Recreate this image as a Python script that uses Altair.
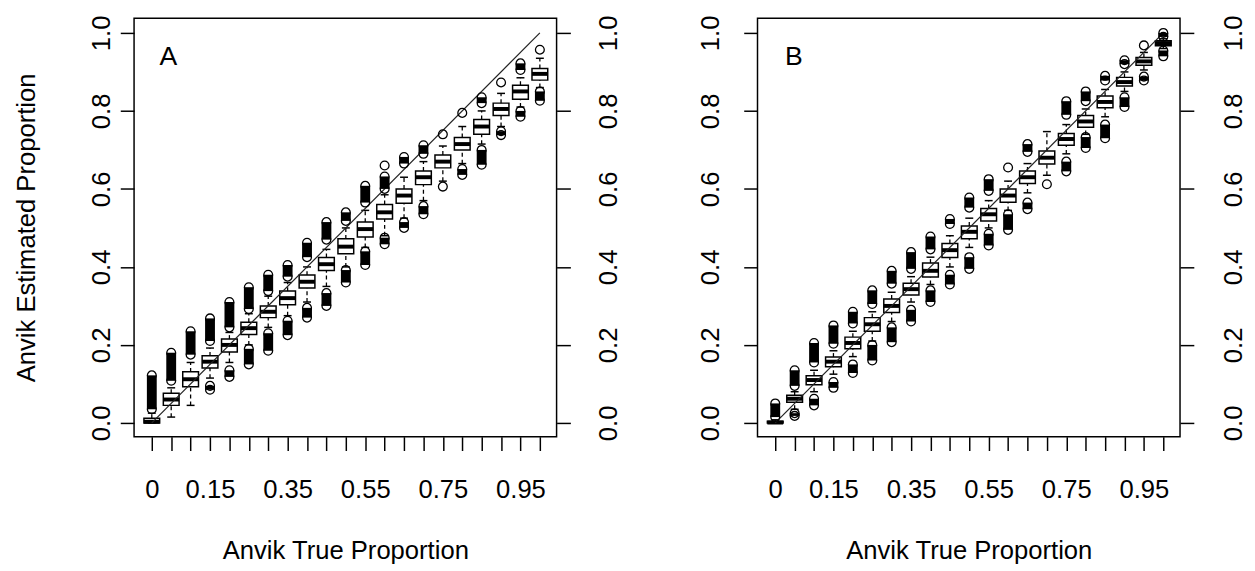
import altair as alt
import pandas as pd

# ---------------- data ----------------
x_vals = [0.00, 0.05, 0.10, 0.15, 0.20, 0.25, 0.30, 0.35, 0.40, 0.45, 0.50,
          0.55, 0.60, 0.65, 0.70, 0.75, 0.80, 0.85, 0.90, 0.95, 1.00]
x_label_vals = [0.00, 0.15, 0.35, 0.55, 0.75, 0.95]
x_label_text = ["0", "0.15", "0.35", "0.55", "0.75", "0.95"]
y_tick_vals = [0.0, 0.2, 0.4, 0.6, 0.8, 1.0]

# Panel A
A_q1 = [0.000, 0.045, 0.093, 0.141, 0.182, 0.227, 0.270, 0.303, 0.346, 0.391, 0.434,
        0.477, 0.523, 0.563, 0.611, 0.654, 0.700, 0.740, 0.788, 0.830, 0.879]
A_med = [0.003, 0.060, 0.112, 0.157, 0.200, 0.243, 0.285, 0.320, 0.362, 0.407, 0.452,
         0.497, 0.540, 0.583, 0.630, 0.670, 0.715, 0.760, 0.805, 0.850, 0.895]
A_q3 = [0.012, 0.076, 0.131, 0.172, 0.215, 0.258, 0.300, 0.338, 0.379, 0.424, 0.472,
        0.515, 0.560, 0.600, 0.646, 0.687, 0.732, 0.778, 0.820, 0.866, 0.909]
A_wlo = [0.000, 0.015, 0.045, 0.115, 0.155, 0.200, 0.245, 0.275, 0.310, 0.350, 0.400,
         0.450, 0.480, 0.525, 0.570, 0.620, 0.665, 0.715, 0.760, 0.810, 0.860]
A_whi = [0.025, 0.090, 0.155, 0.192, 0.232, 0.280, 0.325, 0.360, 0.400, 0.445, 0.500,
         0.545, 0.585, 0.630, 0.670, 0.710, 0.760, 0.800, 0.845, 0.885, 0.935]
A_up_a = [0.035, 0.108, 0.175, 0.210, 0.245, 0.292, 0.338, 0.375, 0.425, 0.470, 0.518,
          0.565, 0.600, 0.665, 0.690, 0.740, 0.795, 0.820, 0.873, 0.905, 0.957]
A_up_b = [0.122, 0.180, 0.235, 0.268, 0.310, 0.348, 0.380, 0.405, 0.462, 0.515, 0.540,
          0.608, 0.632, 0.682, 0.712, 0.740, 0.795, 0.835, 0.873, 0.922, 0.957]
A_dn_a = [None, None, None, 0.085, 0.118, 0.150, 0.185, 0.225, 0.270, 0.300, 0.360,
          0.405, 0.458, 0.500, 0.535, 0.606, 0.636, 0.662, 0.738, 0.785, 0.826]
A_dn_b = [None, None, None, 0.095, 0.135, 0.190, 0.230, 0.262, 0.295, 0.333, 0.392,
          0.440, 0.475, 0.515, 0.556, 0.606, 0.651, 0.700, 0.748, 0.800, 0.850]
A_extra = [(0.60, 0.660)]

# Panel B
B_q1 = [0.000, 0.053, 0.098, 0.144, 0.190, 0.235, 0.283, 0.328, 0.374, 0.424, 0.472,
        0.518, 0.566, 0.614, 0.664, 0.712, 0.758, 0.808, 0.864, 0.917, 0.967]
B_med = [0.001, 0.062, 0.110, 0.157, 0.205, 0.253, 0.300, 0.343, 0.390, 0.443, 0.490,
         0.535, 0.583, 0.630, 0.680, 0.728, 0.773, 0.823, 0.874, 0.927, 0.974]
B_q3 = [0.004, 0.071, 0.121, 0.169, 0.220, 0.270, 0.318, 0.358, 0.410, 0.460, 0.505,
        0.550, 0.600, 0.646, 0.697, 0.742, 0.788, 0.838, 0.886, 0.937, 0.980]
B_wlo = [0.000, 0.035, 0.080, 0.125, 0.170, 0.210, 0.260, 0.310, 0.355, 0.400, 0.450,
         0.500, 0.545, 0.590, 0.635, 0.690, 0.740, 0.785, 0.850, 0.905, 0.960]
B_whi = [0.008, 0.080, 0.135, 0.185, 0.235, 0.285, 0.335, 0.375, 0.425, 0.480, 0.525,
         0.570, 0.620, 0.665, 0.747, 0.765, 0.805, 0.855, 0.900, 0.950, 0.985]
B_up_a = [0.015, 0.095, 0.155, 0.203, 0.255, 0.305, 0.357, 0.395, 0.445, 0.510, 0.552,
          0.595, 0.655, 0.695, None, 0.790, 0.825, 0.878, 0.920, 0.968, 0.990]
B_up_b = [0.050, 0.135, 0.205, 0.250, 0.285, 0.340, 0.390, 0.438, 0.478, 0.523, 0.578,
          0.625, 0.655, 0.715, None, 0.825, 0.850, 0.890, 0.930, 0.968, 1.000]
B_dn_a = [None, 0.018, 0.045, 0.090, 0.128, 0.160, 0.207, 0.260, 0.310, 0.355, 0.395,
          0.455, 0.495, 0.548, 0.612, 0.645, 0.705, 0.730, 0.810, 0.878, 0.940]
B_dn_b = [None, 0.025, 0.062, 0.105, 0.150, 0.200, 0.245, 0.290, 0.340, 0.380, 0.425,
          0.485, 0.535, 0.565, 0.612, 0.670, 0.733, 0.765, 0.835, 0.888, 0.955]
B_extra = []

panel_letters = ["A", "B"]
letter_x = [0.020, 0.025]
letter_y = [0.917, 0.917]

# ---------------- styling ----------------
FONT = "Liberation Sans"
X_DOMAIN = [-0.0457, 1.0431]
Y_DOMAIN = [-0.0354, 1.0379]
W, H = 429, 425
HALF_BOX = 0.0203
HALF_STAPLE = 0.0102

label_expr = ""
for v, t in zip(x_label_vals, x_label_text):
    label_expr += f"abs(datum.value - {v}) < 0.001 ? '{t}' : "
label_expr += "''"


def panel(idx, q1, med, q3, wlo, whi, up_a, up_b, dn_a, dn_b, extra, left_title,
          left_pad, right_pad):
    box = pd.DataFrame(dict(x=x_vals, q1=q1, med=med, q3=q3, wlo=wlo, whi=whi))
    box["x0"] = box["x"] - HALF_BOX
    box["x1"] = box["x"] + HALF_BOX
    box["s0"] = box["x"] - HALF_STAPLE
    box["s1"] = box["x"] + HALF_STAPLE

    spans, pts = [], []
    for x, a, b in list(zip(x_vals, up_a, up_b)) + list(zip(x_vals, dn_a, dn_b)):
        if a is None:
            continue
        pts.append({"x": x, "y": a})
        if b > a:
            pts.append({"x": x, "y": b})
            spans.append({"x": x, "a": a, "b": b})
    for x, y in extra:
        pts.append({"x": x, "y": y})
    spans_df = pd.DataFrame(spans, columns=["x", "a", "b"])
    pts_df = pd.DataFrame(pts, columns=["x", "y"])

    xs = alt.Scale(domain=X_DOMAIN, nice=False, zero=False)
    ys = alt.Scale(domain=Y_DOMAIN, nice=False, zero=False)

    x_axis = alt.Axis(values=x_vals, labelExpr=label_expr, title="Anvik True Proportion",
                      tickSize=14, labelPadding=27, labelOverlap=False, labelFlush=False,
                      titleY=124, titleBaseline="alphabetic")
    if left_title:
        y_left = alt.Axis(orient="left", values=y_tick_vals, format=".1f", labelAngle=270,
                          labelAlign="center", labelBaseline="middle", tickSize=14,
                          labelPadding=left_pad, title=left_title, titleAngle=270,
                          titleX=-101, titleY=H / 2, titleBaseline="alphabetic")
    else:
        y_left = alt.Axis(orient="left", values=y_tick_vals, format=".1f", labelAngle=270,
                          labelAlign="center", labelBaseline="middle", tickSize=14,
                          labelPadding=left_pad, title=None)
    y_right = alt.Axis(orient="right", values=y_tick_vals, format=".1f", labelAngle=270,
                       labelAlign="center", labelBaseline="middle", tickSize=14,
                       labelPadding=right_pad, title=None)

    def X(f, axis=None):
        return alt.X(f, type="quantitative", scale=xs, axis=axis)

    def Y(f, axis=None):
        return alt.Y(f, type="quantitative", scale=ys, axis=axis)

    base = alt.Chart(box)
    rect = base.mark_rect(fillOpacity=0, stroke="black", strokeWidth=1.5).encode(
        x=X("x0", x_axis), x2="x1", y=Y("q1", y_left), y2="q3")
    median = base.mark_rule(color="black", strokeWidth=4).encode(
        x=X("x0"), x2="x1", y=Y("med"))
    wh_hi = base.mark_rule(color="black", strokeWidth=1.3, strokeDash=[4, 3]).encode(
        x=X("x"), y=Y("q3"), y2="whi")
    wh_lo = base.mark_rule(color="black", strokeWidth=1.3, strokeDash=[4, 3]).encode(
        x=X("x"), y=Y("wlo"), y2="q1")
    st_hi = base.mark_rule(color="black", strokeWidth=1.5).encode(
        x=X("s0"), x2="s1", y=Y("whi"))
    st_lo = base.mark_rule(color="black", strokeWidth=1.5).encode(
        x=X("s0"), x2="s1", y=Y("wlo"))
    span = alt.Chart(spans_df).mark_rule(color="black", strokeWidth=10).encode(
        x=X("x"), y=Y("a"), y2="b")
    circ = alt.Chart(pts_df).mark_point(shape="circle", size=80, filled=False, color="black",
                                        strokeWidth=1.3, opacity=1).encode(x=X("x"), y=Y("y"))
    diag_df = pd.DataFrame({"x": [x_vals[0], x_vals[-1]], "y": [y_tick_vals[0], y_tick_vals[-1]]})
    diag = alt.Chart(diag_df).mark_line(color="#222222", strokeWidth=1.2).encode(
        x=X("x"), y=Y("y", y_right))
    let_df = pd.DataFrame({"x": [letter_x[idx]], "y": [letter_y[idx]], "t": [panel_letters[idx]]})
    letter = alt.Chart(let_df).mark_text(font=FONT, fontSize=27, align="left",
                                         baseline="alphabetic", color="black").encode(
        x=X("x"), y=Y("y"), text="t:N")

    return alt.layer(rect, median, wh_hi, wh_lo, st_hi, st_lo, diag, span, circ, letter).resolve_axis(
        x="independent", y="independent").properties(width=W, height=H)


pA = panel(0, A_q1, A_med, A_q3, A_wlo, A_whi, A_up_a, A_up_b, A_dn_a, A_dn_b, A_extra,
           "Anvik Estimated Proportion", 19, 39)
pB = panel(1, B_q1, B_med, B_q3, B_wlo, B_whi, B_up_a, B_up_b, B_dn_a, B_dn_b, B_extra,
           None, 34, 40)

chart = alt.hconcat(pA, pB, spacing=75).properties(
    padding={"left": 5, "top": 2, "right": 0, "bottom": 0},
    background="white"
).configure_view(stroke="black", strokeWidth=1.5).configure_axis(
    labelFont=FONT, titleFont=FONT, labelFontSize=26, titleFontSize=26,
    titleFontWeight="normal", labelColor="black", titleColor="black",
    tickColor="black", tickWidth=1.5, domain=False, grid=False
)

chart.save("out.html", embed_options={"renderer": "svg", "actions": False})
